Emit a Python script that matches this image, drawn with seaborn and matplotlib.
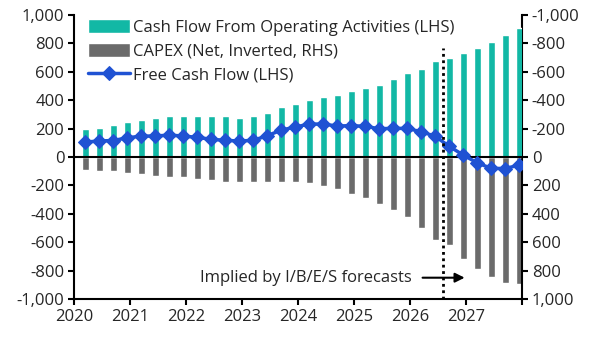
import numpy as np
import pandas as pd
import matplotlib
matplotlib.use("Agg")
import matplotlib.pyplot as plt
from matplotlib.ticker import FuncFormatter
import seaborn as sns

quarters = [f"{y}Q{q}" for y in range(2020, 2028) for q in range(1, 5)]
cfo = [195, 205, 228, 247, 258, 278, 290, 290, 290, 290, 290, 277, 290, 311, 354, 373,
       404, 425, 435, 467, 487, 507, 550, 593, 623, 676, 698, 730, 771, 811, 857, 906]
capex = [90, 101, 101, 112, 123, 133, 144, 143, 154, 164, 175, 175, 175, 175, 175, 175,
         185, 205, 226, 258, 288, 330, 371, 423, 498, 581, 623, 717, 788, 842, 885, 896]
fcf = [105, 113, 116, 135, 147, 148, 154, 148, 138, 125, 117, 113, 117, 150, 189, 211,
       232, 232, 218, 221, 216, 199, 202, 201, 178, 146, 75, 14, -41, -80, -81, -57]
year_labels = ["2020", "2021", "2022", "2023", "2024", "2025", "2026", "2027", ""]
left_ticks = [-1000, -800, -600, -400, -200, 0, 200, 400, 600, 800, 1000]
labels = ["Cash Flow From Operating Activities (LHS)", "CAPEX (Net, Inverted, RHS)", "Free Cash Flow (LHS)"]
annot = "Implied by I/B/E/S forecasts"

TEAL = "#12B8A5"
GRAY = "#6B6B6B"
BLUE = "#1F52D3"

sns.set_style("ticks")
plt.rcParams["font.family"] = ["Open Sans", "DejaVu Sans"]
FS = 12

fig = plt.figure(figsize=(5.98, 3.40), dpi=100)
ax = fig.add_axes([74/598, 1-299/340, (522-74)/598, (299-15)/340])
ax2 = ax.twinx()

sns.barplot(x=quarters, y=cfo, ax=ax, color=TEAL, width=0.48, saturation=1, label=labels[0])
sns.barplot(x=quarters, y=capex, ax=ax2, color=GRAY, width=0.48, saturation=1, label=labels[1])
sns.lineplot(x=np.arange(len(quarters)), y=fcf, ax=ax, color=BLUE, lw=2.5, marker="D",
             markersize=7, markeredgecolor=BLUE, label=labels[2])

ax.set_zorder(ax2.get_zorder() + 1)
ax.patch.set_visible(False)

ax.set_ylim(-1000, 1000)
ax2.set_ylim(1000, -1000)
ax.set_yticks(left_ticks)
ax2.set_yticks(left_ticks)
fmt = FuncFormatter(lambda v, p: f"{v:,.0f}")
ax.yaxis.set_major_formatter(fmt)
ax2.yaxis.set_major_formatter(fmt)
xt = [-0.8 + 4 * k for k in range(len(year_labels))]
ax.set_xticks(xt)
ax.set_xticklabels(year_labels)
ax.set_xlim(-0.8, 31.2)
ax2.set_xlim(-0.8, 31.2)
ax.set_xlabel("")
ax.set_ylabel("")
ax2.set_ylabel("")

for a in (ax, ax2):
    a.tick_params(labelsize=FS, length=4, width=1.5, color="black", pad=3)
    for s in a.spines.values():
        s.set_linewidth(1.5)
        s.set_color("black")
    a.spines["top"].set_visible(False)
ax.spines["right"].set_visible(False)
ax2.spines["left"].set_visible(False)
ax2.spines["bottom"].set_visible(False)

ax.axhline(0, color="black", lw=1.5, zorder=1)
ax.plot([25.55, 25.55], [-1000, 765], color="black", lw=2, linestyle=(0, (1, 1.3)), zorder=4)

ax.text(8.2, -850, annot, fontsize=FS, va="center", ha="left")
ax.annotate("", xy=(27.3, -850), xytext=(23.9, -850),
            arrowprops=dict(arrowstyle="-|>", color="black", lw=1.5, mutation_scale=14))

h1, l1 = ax.get_legend_handles_labels()
h2, l2 = ax2.get_legend_handles_labels()
hmap = dict(zip(l1 + l2, h1 + h2))
if ax2.get_legend():
    ax2.get_legend().remove()
ax.legend([hmap[l] for l in labels], labels, loc="upper left", bbox_to_anchor=(0.01, 1.02),
          frameon=False, fontsize=FS, handlelength=2.5, handleheight=0.85, labelspacing=0.45,
          handletextpad=0.2, borderaxespad=0.2)

fig.savefig("out.png", dpi=100)
